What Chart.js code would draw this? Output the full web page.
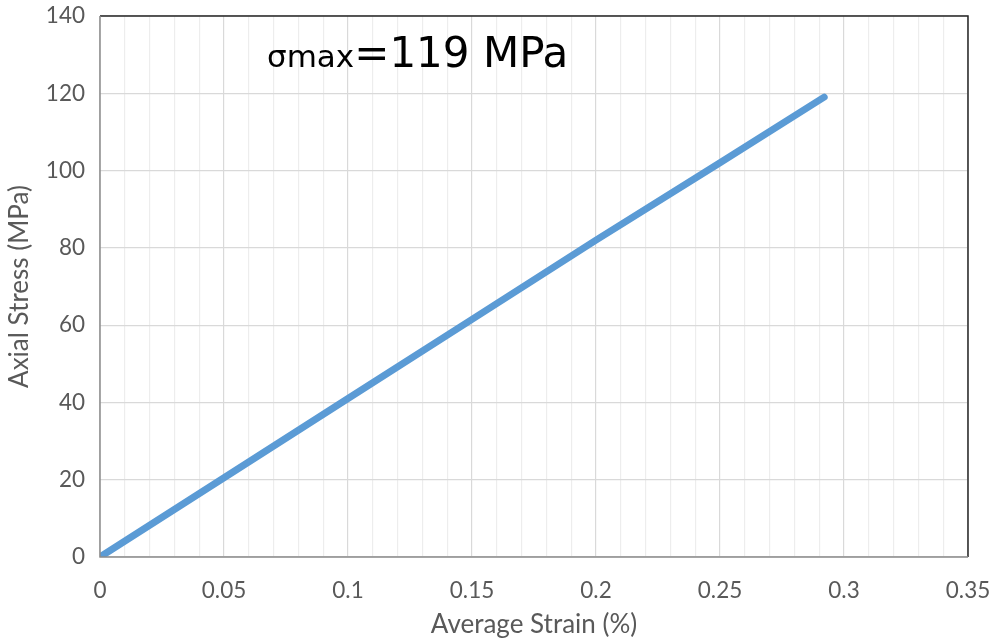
<!DOCTYPE html>
<html><head><meta charset="utf-8">
<script src="https://cdn.jsdelivr.net/npm/chart.js@4.4.0/dist/chart.umd.min.js"></script>
<style>html,body{margin:0;padding:0;background:#fff}#wrap{width:994px;height:644px}</style>
</head><body><div id="wrap"><canvas id="c" width="994" height="644"></canvas></div>
<script>
const strain = [0, 0.05, 0.1, 0.15, 0.2, 0.25, 0.292];
const stress = [0, 20.5, 41, 61.5, 82, 102, 119];
const xTitle = 'Average Strain (%)';
const yTitle = 'Axial Stress (MPa)';
const annoSmall = 'σmax';
const annoBig = '=119 MPa';

const points = strain.map((x, i) => ({x: x, y: stress[i]}));
const isMajor = v => Math.abs(Math.round(v * 100) % 5) === 0;

const frame = {
  id: 'frame',
  afterDatasetsDraw(chart) {
    const {ctx, chartArea: a} = chart;
    ctx.save();
    ctx.lineWidth = 1.5;
    ctx.strokeStyle = '#262626';
    ctx.beginPath();
    ctx.moveTo(a.left, a.top); ctx.lineTo(a.right, a.top); ctx.lineTo(a.right, a.bottom);
    ctx.stroke();
    ctx.strokeStyle = '#8c8c8c';
    ctx.beginPath();
    ctx.moveTo(a.left, a.top); ctx.lineTo(a.left, a.bottom); ctx.lineTo(a.right, a.bottom);
    ctx.stroke();
    ctx.fillStyle = '#000';
    ctx.textBaseline = 'alphabetic';
    ctx.font = '31px "DejaVu Sans"';
    ctx.fillText(annoSmall, 267, 67);
    const w = ctx.measureText(annoSmall).width;
    ctx.font = '42px "DejaVu Sans"';
    ctx.fillText(annoBig, 267 + w, 67);
    ctx.restore();
  }
};

new Chart(document.getElementById('c'), {
  type: 'scatter',
  data: { datasets: [{
    data: points, showLine: true, borderColor: '#5b9bd5', backgroundColor: '#5b9bd5',
    borderWidth: 7, pointRadius: 0, borderCapStyle: 'round', tension: 0
  }]},
  options: {
    responsive: false, animation: false,
    layout: { padding: { left: 0, right: 26, top: 16, bottom: 0 } },
    plugins: { legend: { display: false }, tooltip: { enabled: false } },
    scales: {
      x: {
        type: 'linear', min: 0, max: 0.35,
        afterFit: s => { s.height = 87; s.paddingLeft = 0; s.paddingRight = 0; s.paddingTop = 0; s.paddingBottom = 0; },
        ticks: {
          stepSize: 0.01, autoSkip: false, maxRotation: 0, padding: 20, color: '#595959',
          font: { family: 'Lato', size: 22.5 },
          callback: v => isMajor(v) ? String(Math.round(v * 100) / 100) : ''
        },
        grid: { drawTicks: false, color: c => isMajor(c.tick.value) ? '#d9d9d9' : '#ededed', lineWidth: 1.2 },
        border: { display: false },
        title: { display: true, text: xTitle, color: '#595959', font: { family: 'Lato', size: 26 }, padding: { top: 0 } }
      },
      y: {
        min: 0, max: 140,
        afterFit: s => { s.width = 100; s.paddingLeft = 0; s.paddingRight = 0; s.paddingTop = 0; s.paddingBottom = 0; },
        ticks: { stepSize: 20, padding: 15, color: '#595959', font: { family: 'Lato', size: 22.5 } },
        grid: { drawTicks: false, color: '#d9d9d9', lineWidth: 1.2 },
        border: { display: false },
        title: { display: true, text: yTitle, color: '#595959', font: { family: 'Lato', size: 26 }, padding: { bottom: 2 } }
      }
    }
  },
  plugins: [frame]
});
</script></body></html>
